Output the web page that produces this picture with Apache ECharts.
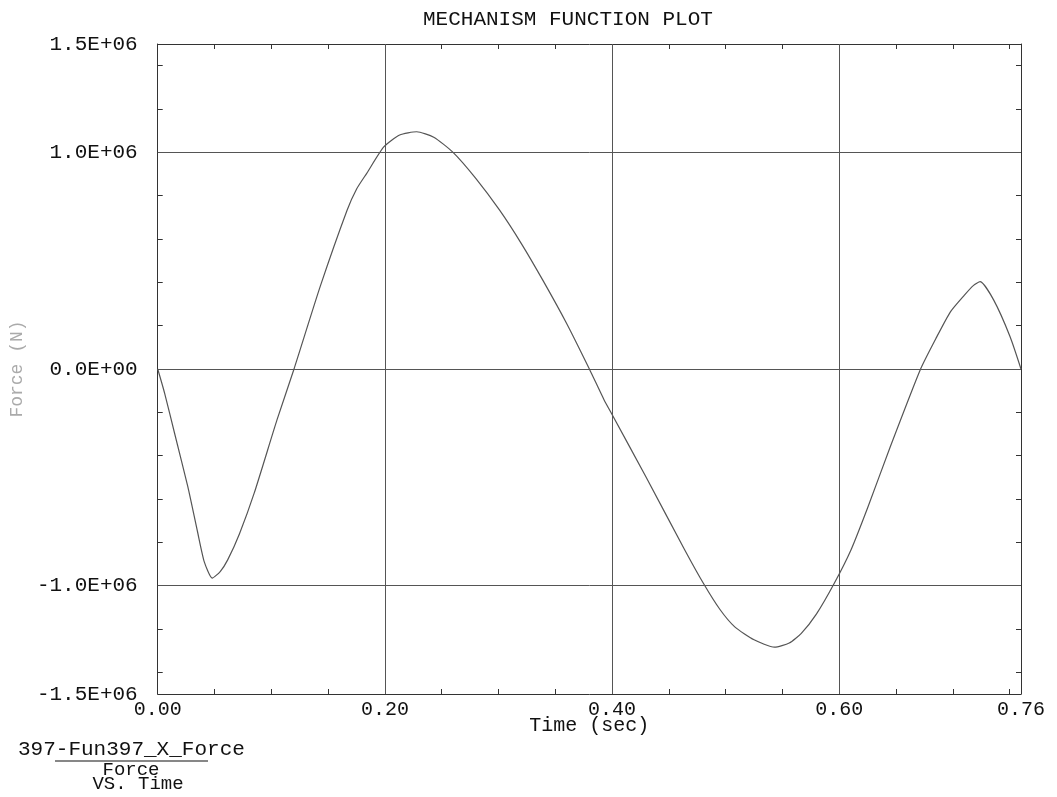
<!DOCTYPE html>
<html>
<head>
<meta charset="utf-8">
<script src="https://cdn.jsdelivr.net/npm/echarts@6/dist/echarts.min.js"></script>
<style>
  html, body { margin: 0; padding: 0; background: #fff; }
  #chart { width: 1057px; height: 797px; }
</style>
</head>
<body>
<div id="chart"></div>
<script>
// curve: time (sec) / force (N)
const time = [0, 0.006, 0.015, 0.0265, 0.035, 0.041, 0.048, 0.055, 0.0616, 0.072,
  0.085, 0.105, 0.12, 0.143, 0.1667, 0.175, 0.184, 0.199, 0.213, 0.228, 0.243,
  0.26, 0.28, 0.301, 0.32, 0.339, 0.36, 0.38, 0.393, 0.40, 0.43,
  0.464, 0.4805, 0.495, 0.508, 0.525, 0.543, 0.556, 0.5666, 0.58, 0.5955,
  0.6103, 0.625, 0.645, 0.6716, 0.685, 0.698, 0.71, 0.718, 0.724, 0.736, 0.7504, 0.76];
const force = [0, -110000, -300000, -543000, -750000, -890000, -965000, -935000, -881000, -760000,
  -572000, -235000, 0, 380000, 733000, 830000, 903000, 1025000, 1080000, 1095000, 1070000,
  1000000, 880000, 733000, 580000, 410000, 210000, 0, -143000, -210000, -500000,
  -835000, -990000, -1110000, -1190000, -1250000, -1284000, -1265000, -1220000, -1130000, -990000,
  -835000, -640000, -358000, 0, 140000, 265000, 340000, 385000, 403000, 318000, 149000, 0];

const xLabelValues = [0, 0.2, 0.4, 0.6, 0.76];
const xLabels = ['0.00', '0.20', '0.40', '0.60', '0.76'];
const yLabelValues = [-1500000, -1000000, 0, 1000000, 1500000];
const yLabels = ['-1.5E+06', '-1.0E+06', '0.0E+00', '1.0E+06', '1.5E+06'];
const xGridValues = [0.2, 0.4, 0.6];
const yGridValues = [-1000000, 0, 1000000];
const xTickValues = [0.05, 0.1, 0.15, 0.2, 0.25, 0.3, 0.35, 0.4, 0.45, 0.5, 0.55, 0.6, 0.65, 0.7, 0.75];
const yTickValues = [-1400000, -1200000, -1000000, -800000, -600000, -400000, -200000, 0,
  200000, 400000, 600000, 800000, 1000000, 1200000, 1400000];

const mono = 'Liberation Mono';
const ink = '#333';

function labelFor(values, labels) {
  return function (v) {
    for (let i = 0; i < values.length; i++) {
      if (Math.abs(v - values[i]) < 1e-6 * Math.max(1, Math.abs(values[i]))) return labels[i];
    }
    return '';
  };
}

const chart = echarts.init(document.getElementById('chart'));

const tickStyle = { show: true, inside: true, length: 5, lineStyle: { color: ink, width: 1 } };
const frameLine = { show: true, onZero: false, lineStyle: { color: ink, width: 1 } };

chart.setOption({
  animation: false,
  title: {
    text: 'MECHANISM FUNCTION PLOT',
    left: 418,
    top: 4,
    textStyle: { fontFamily: mono, fontSize: 21, fontWeight: 'normal', color: '#111' }
  },
  grid: { left: 153, right: 36, top: 44, bottom: 103, containLabel: false },
  xAxis: [{
    type: 'value',
    min: 0,
    max: 0.76,
    position: 'bottom',
    name: 'Time (sec)',
    nameLocation: 'middle',
    nameGap: 22,
    nameMoveOverlap: false,
    nameTextStyle: { fontFamily: mono, fontSize: 20, color: '#111' },
    axisLine: frameLine,
    axisTick: Object.assign({ customValues: xTickValues }, tickStyle),
    axisLabel: {
      customValues: xLabelValues,
      formatter: labelFor(xLabelValues, xLabels),
      fontFamily: mono, fontSize: 20, color: '#111', margin: 6
    },
    splitLine: { show: false }
  }, {
    type: 'value',
    min: 0,
    max: 0.76,
    position: 'top',
    axisLine: frameLine,
    axisTick: Object.assign({ customValues: xTickValues }, tickStyle),
    axisLabel: { show: false },
    splitLine: { show: false }
  }],
  yAxis: [{
    type: 'value',
    min: -1500000,
    max: 1500000,
    position: 'left',
    name: 'Force (N)',
    nameLocation: 'middle',
    nameGap: 128,
    nameTextStyle: { fontFamily: mono, fontSize: 18, color: '#aaa' },
    axisLine: frameLine,
    axisTick: Object.assign({ customValues: yTickValues }, tickStyle),
    axisLabel: {
      customValues: yLabelValues,
      formatter: labelFor(yLabelValues, yLabels),
      fontFamily: mono, fontSize: 21, color: '#111', margin: 20
    },
    splitLine: { show: false }
  }, {
    type: 'value',
    min: -1500000,
    max: 1500000,
    position: 'right',
    axisLine: frameLine,
    axisTick: Object.assign({ customValues: yTickValues }, tickStyle),
    axisLabel: { show: false },
    splitLine: { show: false }
  }],
  series: [{
    type: 'line',
    xAxisIndex: 0,
    yAxisIndex: 0,
    data: time.map((t, i) => [t, force[i]]),
    smooth: 0.2,
    showSymbol: false,
    lineStyle: { color: '#555', width: 1.2 },
    markLine: {
      silent: true,
      symbol: 'none',
      label: { show: false },
      lineStyle: { color: '#555', width: 1, type: 'solid' },
      data: yGridValues.map(v => ({ yAxis: v })).concat(xGridValues.map(v => ({ xAxis: v })))
    }
  }],
  graphic: [{
    type: 'text',
    left: 18,
    top: 739,
    style: { text: '397-Fun397_X_Force', font: '21px "Liberation Mono"', fill: '#111' }
  }, {
    type: 'line',
    shape: { x1: 55, y1: 761, x2: 208, y2: 761 },
    style: { stroke: '#111', lineWidth: 1.2 }
  }, {
    type: 'text',
    x: 131,
    y: 770,
    style: { text: 'Force', font: '19px "Liberation Mono"', fill: '#111', align: 'center', verticalAlign: 'middle' }
  }, {
    type: 'text',
    x: 138,
    y: 784,
    style: { text: 'VS. Time', font: '19px "Liberation Mono"', fill: '#111', align: 'center', verticalAlign: 'middle' }
  }]
});
</script>
</body>
</html>
